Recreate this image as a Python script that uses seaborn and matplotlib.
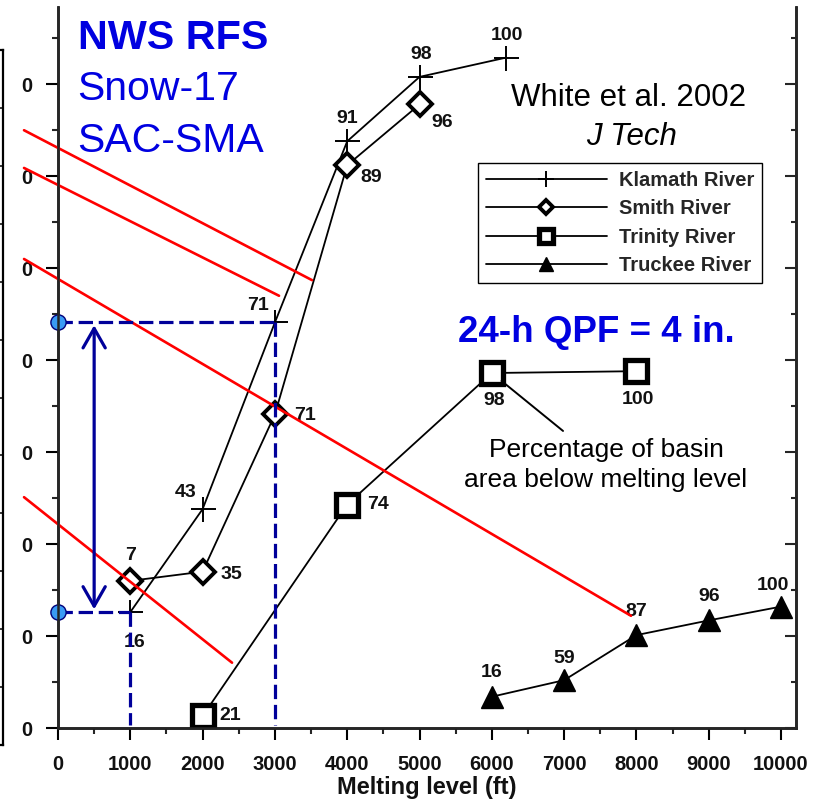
import numpy as np
import pandas as pd
import matplotlib
matplotlib.use('Agg')
import matplotlib.pyplot as plt
import seaborn as sns
from matplotlib.ticker import MultipleLocator

sns.set_style('ticks')
plt.rcParams['font.family'] = ['Liberation Sans', 'DejaVu Sans']

# ---------------- data ----------------
klamath_x = [1000, 2000, 3000, 4000, 5000, 6200]
klamath_y = [12.6, 23.8, 44.1, 63.8, 70.8, 72.9]
klamath_pct = [16, 43, 71, 91, 98, 100]

smith_x = [1000, 2000, 3000, 4000, 5000]
smith_y = [16.0, 17.0, 34.1, 61.2, 67.8]
smith_pct = [7, 35, 71, 89, 96]

trinity_x = [2000, 4000, 6000, 8000]
trinity_y = [1.3, 24.3, 38.6, 38.8]
trinity_pct = [21, 74, 98, 100]

truckee_x = [6000, 7000, 8000, 9000, 10000]
truckee_y = [3.4, 5.2, 10.1, 11.7, 13.2]
truckee_pct = [16, 59, 87, 96, 100]

x_ticks = [0, 1000, 2000, 3000, 4000, 5000, 6000, 7000, 8000, 9000, 10000]
y_ticks = [0, 10, 20, 30, 40, 50, 60, 70]
y_tick_labels = ['0', '0', '0', '0', '0', '0', '0', '0']

# red guide lines (start/end in data units)
red_x = [[-470, 3513], [-470, 3057], [-470, 7925], [-470, 2407]]
red_y = [[65.0, 48.7], [60.9, 47.0], [51.0, 12.2], [25.1, 7.1]]

arrow_x = 500
note_anchor = (6985, 32.3)

# label offsets (pixels)
klamath_off = [(4, -30), (-17, 17), (-17, 17), (0, 23), (2, 22), (1, 22)]
smith_off = [(0, 25), (29, -3), (30, -1), (24, -12), (23, -18)]
trinity_off = [(28, 1), (31, 0), (2, -27), (2, -28)]
truckee_off = [(0, 24), (0, 22), (0, 24), (0, 24), (-8, 21)]

W, H = 829, 801
fig = plt.figure(figsize=(W / 100, H / 100), dpi=100)
ax = fig.add_axes([58 / W, 1 - 728 / H, (796 - 58) / W, (728 - 7) / H])

common = dict(ax=ax, color='black', linewidth=1.3, sort=False, estimator=None,
              markeredgecolor='black')
sns.lineplot(x=klamath_x, y=klamath_y, marker='+', markersize=18, markeredgewidth=1.4,
             label='Klamath River', **common)
sns.lineplot(x=smith_x, y=smith_y, marker='D', markersize=12, markeredgewidth=2.8,
             markerfacecolor='white', label='Smith River', **common)
sns.lineplot(x=trinity_x, y=trinity_y, marker='s', markersize=16, markeredgewidth=3.8,
             markerfacecolor='white', label='Trinity River', **common)
sns.lineplot(x=truckee_x, y=truckee_y, marker='^', markersize=16, markeredgewidth=1,
             markerfacecolor='black', label='Truckee River', **common)

lab_kw = dict(textcoords='offset pixels', ha='center', va='center',
              fontsize=14, fontweight='bold', color='#111111')
for xs, ys, ps, offs in [(klamath_x, klamath_y, klamath_pct, klamath_off),
                         (smith_x, smith_y, smith_pct, smith_off),
                         (trinity_x, trinity_y, trinity_pct, trinity_off),
                         (truckee_x, truckee_y, truckee_pct, truckee_off)]:
    for x, y, p, o in zip(xs, ys, ps, offs):
        ax.annotate(str(p), (x, y), xytext=o, **lab_kw)

# red lines
for rx, ry in zip(red_x, red_y):
    ax.plot(rx, ry, color='#FF0000', linewidth=1.9, clip_on=False, zorder=3)

# blue dashed guides
navy = '#00009A'
dash_kw = dict(color=navy, linewidth=2.3, dashes=(4.5, 1.8), zorder=4, clip_on=False)
for i in (0, 2):
    ax.plot([0, klamath_x[i]], [klamath_y[i], klamath_y[i]], **dash_kw)
    ax.plot([klamath_x[i], klamath_x[i]], [klamath_y[i], 0.3], **dash_kw)
ax.scatter([0, 0], [klamath_y[2], klamath_y[0]], s=120, color='#3A9BF5',
           edgecolor='#00007A', linewidth=1, zorder=6, clip_on=False)
ax.annotate('', xy=(arrow_x, klamath_y[0]), xytext=(arrow_x, klamath_y[2]),
            arrowprops=dict(arrowstyle='<->,head_length=0.7,head_width=0.4',
                            color=navy, lw=2.3, shrinkA=2, shrinkB=2,
                            mutation_scale=20), zorder=5)

# leader line for note
ax.annotate('', xy=(trinity_x[2], trinity_y[2]), xytext=note_anchor,
            arrowprops=dict(arrowstyle='-', color='black', lw=1.4,
                            shrinkA=0, shrinkB=9))

# axes formatting
ax.set_xlim(0, 10207)
ax.set_ylim(0, 78.4)
ax.set_xticks(x_ticks)
ax.set_xticklabels([str(t) for t in x_ticks])
ax.set_yticks(y_ticks, labels=y_tick_labels)
ax.xaxis.set_minor_locator(MultipleLocator(500))
ax.yaxis.set_minor_locator(MultipleLocator(5))
ax.tick_params(axis='both', which='major', direction='out', length=8.5, width=1.5,
               labelsize=14.5, color='black', labelcolor='#111111')
ax.tick_params(axis='x', which='major', pad=11)
ax.tick_params(axis='y', which='major', pad=10)
ax.tick_params(axis='both', which='minor', direction='out', length=4, width=1.5)
for lab in ax.get_xticklabels() + ax.get_yticklabels():
    lab.set_fontweight('bold')
ax.set_xlabel('Melting level (ft)', fontsize=17, fontweight='bold', labelpad=1.5,
              color='#111111')
ax.set_ylabel('')
for s in ['left', 'bottom', 'right']:
    ax.spines[s].set_linewidth(1.8)
    ax.spines[s].set_color('black')
ax.spines['top'].set_visible(False)

leg = ax.legend(loc='upper left', bbox_to_anchor=(478 / W, 1 - 163 / H),
                bbox_transform=fig.transFigure, borderaxespad=0, fancybox=False,
                edgecolor='black', framealpha=1, handlelength=6.0, markerscale=0.62,
                prop={'weight': 'bold', 'size': 14.5}, labelspacing=0.46,
                borderpad=0.4, handletextpad=0.6)
leg.get_frame().set_linewidth(1.0)

# right axis with inward ticks
ax2 = ax.twinx()
ax2.set_ylim(ax.get_ylim())
ax2.set_yticks(y_ticks)
ax2.yaxis.set_minor_locator(MultipleLocator(5))
ax2.tick_params(axis='y', which='major', direction='in', length=8, width=1.5,
                labelright=False)
ax2.tick_params(axis='y', which='minor', direction='in', length=3.5, width=1.5)
ax2.spines['top'].set_visible(False)
for s in ['left', 'bottom', 'right']:
    ax2.spines[s].set_linewidth(1.8)

# neighbouring panel edge at far left
side_ticks = list(range(0, 13))
ax3 = fig.add_axes([-60 / W, 1 - 745 / H, 63 / W, 695 / H])
ax3.set_ylim(0, 12)
ax3.set_xlim(0, 1)
ax3.set_xticks([])
ax3.yaxis.tick_right()
ax3.set_yticks(side_ticks)
ax3.tick_params(axis='y', direction='in', length=3, width=1.3, labelright=False)
for s in ax3.spines.values():
    s.set_linewidth(1.6)
    s.set_color('black')

# texts
blue = '#0000E0'
fig.text(78 / W, 1 - 49 / H, 'NWS RFS', fontsize=29.8, fontweight='bold', color=blue,
         va='baseline', ha='left')
fig.text(77 / W, 1 - 100 / H, 'Snow-17', fontsize=29.5, color=blue, va='baseline', ha='left')
fig.text(77 / W, 1 - 152 / H, 'SAC-SMA', fontsize=29.5, color=blue, va='baseline', ha='left')
fig.text(629 / W, 1 - 106 / H, 'White et al. 2002', fontsize=22.5, color='black',
         va='baseline', ha='center')
fig.text(632 / W, 1 - 145 / H, 'J Tech', fontsize=22.5, style='italic', color='black',
         va='baseline', ha='center')
fig.text(596 / W, 1 - 342 / H, '24-h QPF = 4 in.', fontsize=26.5, fontweight='bold',
         color=blue, va='baseline', ha='center')
fig.text(606 / W, 1 - 457 / H, 'Percentage of basin', fontsize=19, color='black',
         va='baseline', ha='center')
fig.text(606 / W, 1 - 487 / H, 'area below melting level', fontsize=19, color='black',
         va='baseline', ha='center')

fig.savefig('out.png', dpi=100)
